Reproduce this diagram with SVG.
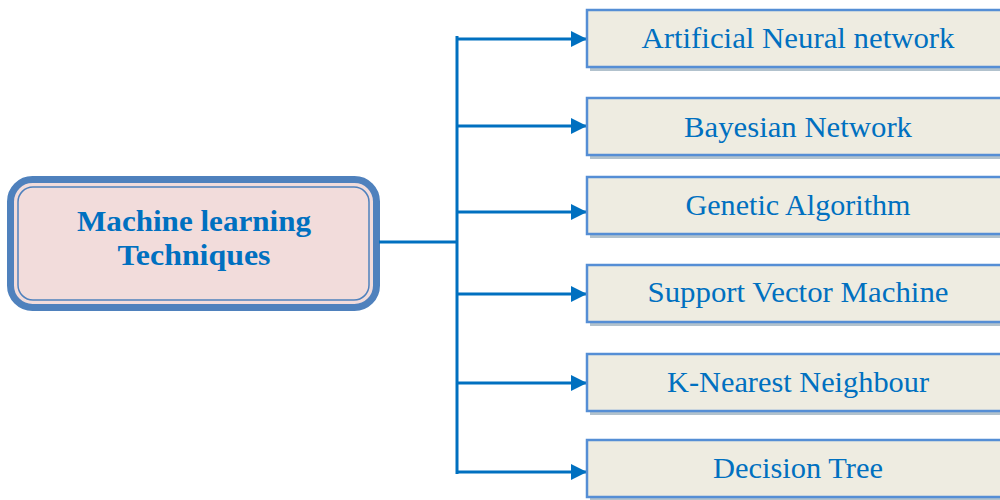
<svg xmlns="http://www.w3.org/2000/svg" width="1000" height="500" viewBox="0 0 1000 500">
<style>
.conn{stroke:#0070c0;stroke-width:3;fill:none}
.box{fill:#eeece1;stroke:#558ed5;stroke-width:2.5}
.shadow{fill:#9fb3c0;opacity:0.8}
.lbl{font-family:"Liberation Serif",serif;font-size:29px;fill:#0070c0;text-anchor:middle}
.main{font-family:"Liberation Serif",serif;font-size:29px;font-weight:bold;fill:#0070c0;text-anchor:middle}
</style>
<defs>
<marker id="arr" viewBox="0 0 10 10" refX="10" refY="5" markerWidth="5.5" markerHeight="5.5" orient="auto" markerUnits="strokeWidth">
<path d="M0,0 L10,5 L0,10 Z" fill="#0070c0"/>
</marker>
</defs>
<g id="center">
<rect x="10.5" y="179.5" width="366" height="128" rx="22" fill="#f2dcdb" stroke="#4f81bd" stroke-width="7"/>
<rect x="16" y="185" width="355" height="117" rx="17" fill="none" stroke="#f2dcdb" stroke-width="2"/>
<rect x="18" y="187" width="351" height="113" rx="15" fill="none" stroke="#4f81bd" stroke-width="1.5"/>
<text class="main" x="194" y="231" textLength="234" lengthAdjust="spacingAndGlyphs">Machine learning</text>
<text class="main" x="194" y="265" textLength="153" lengthAdjust="spacingAndGlyphs">Techniques</text>
</g>
<g id="connectors">
<path class="conn" d="M379,242 H457"/>
<path class="conn" d="M457,36 V474"/>
<path class="conn" d="M457,39 H587" marker-end="url(#arr)"/>
<path class="conn" d="M457,126 H587" marker-end="url(#arr)"/>
<path class="conn" d="M457,212 H587" marker-end="url(#arr)"/>
<path class="conn" d="M457,294 H587" marker-end="url(#arr)"/>
<path class="conn" d="M457,383 H587" marker-end="url(#arr)"/>
<path class="conn" d="M457,472 H587" marker-end="url(#arr)"/>
</g>
<g id="n1"><rect class="shadow" x="590" y="14" width="425" height="57"/><rect class="box" x="587" y="10" width="425" height="57"/><text class="lbl" x="798" y="48" textLength="313" lengthAdjust="spacingAndGlyphs">Artificial Neural network</text></g>
<g id="n2"><rect class="shadow" x="590" y="102" width="425" height="57"/><rect class="box" x="587" y="98" width="425" height="57"/><text class="lbl" x="798" y="137" textLength="228" lengthAdjust="spacingAndGlyphs">Bayesian Network</text></g>
<g id="n3"><rect class="shadow" x="590" y="181" width="425" height="57"/><rect class="box" x="587" y="177" width="425" height="57"/><text class="lbl" x="798" y="215" textLength="225" lengthAdjust="spacingAndGlyphs">Genetic Algorithm</text></g>
<g id="n4"><rect class="shadow" x="590" y="269" width="425" height="57"/><rect class="box" x="587" y="265" width="425" height="57"/><text class="lbl" x="798" y="302" textLength="301" lengthAdjust="spacingAndGlyphs">Support Vector Machine</text></g>
<g id="n5"><rect class="shadow" x="590" y="358" width="425" height="57"/><rect class="box" x="587" y="354" width="425" height="57"/><text class="lbl" x="798" y="392" textLength="262" lengthAdjust="spacingAndGlyphs">K-Nearest Neighbour</text></g>
<g id="n6"><rect class="shadow" x="590" y="444" width="425" height="57"/><rect class="box" x="587" y="440" width="425" height="57"/><text class="lbl" x="798" y="478" textLength="170" lengthAdjust="spacingAndGlyphs">Decision Tree</text></g>
</svg>
